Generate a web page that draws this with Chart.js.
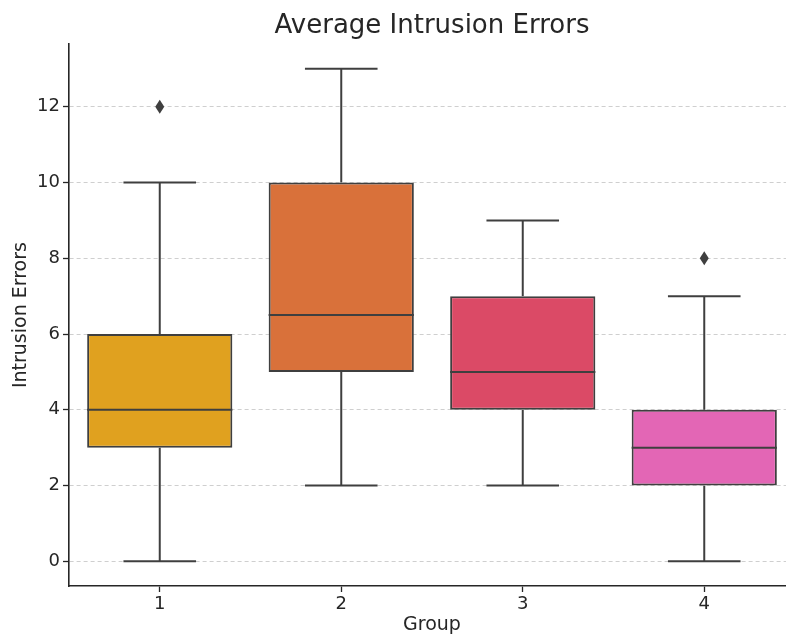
<!DOCTYPE html>
<html>
<head>
<meta charset="utf-8">
<title>Average Intrusion Errors</title>
<script src="https://cdn.jsdelivr.net/npm/chart.js@4.4.0/dist/chart.umd.min.js"></script>
<style>
    html, body { margin: 0; padding: 0; overflow: hidden; background: #ffffff; }
    #caixa { width: 795px; height: 636px; }
</style>
</head>
<body>
<div id="caixa"><canvas id="grafico" width="795" height="636"></canvas></div>
<script>
// Dados do boxplot
const grupos = ['1', '2', '3', '4'];
const quartil1 = [3, 5, 4, 2];
const medianas = [4, 6.5, 5, 3];
const quartil3 = [6, 10, 7, 4];
const bigodeMin = [0, 2, 2, 0];
const bigodeMax = [10, 13, 9, 7];
const outliers = [[12], [], [], [8]];
const marcasY = [0, 2, 4, 6, 8, 10, 12];
const cores = ['#e0a11f', '#d9713a', '#db4a66', '#e366b5'];

const corLinha = '#3f3f3f';
const corTexto = '#262626';
const fonte = "'DejaVu Sans', sans-serif";

// Desenha bigodes, medianas e outliers usando as escalas do Chart.js
const pluginBoxplot = {
    id: 'boxplot',
    afterDatasetsDraw(chart) {
        const ctx = chart.ctx;
        const y = chart.scales.y;
        const meta = chart.getDatasetMeta(0);
        ctx.save();
        ctx.strokeStyle = corLinha;
        ctx.fillStyle = corLinha;
        ctx.lineWidth = 2;
        const linha = (x1, y1, x2, y2) => {
            ctx.beginPath();
            ctx.moveTo(x1, y1);
            ctx.lineTo(x2, y2);
            ctx.stroke();
        };
        grupos.forEach((g, i) => {
            const barra = meta.data[i];
            const cx = barra.x;
            const meia = barra.width / 2;
            // bigodes
            linha(cx, y.getPixelForValue(quartil3[i]), cx, y.getPixelForValue(bigodeMax[i]));
            linha(cx, y.getPixelForValue(quartil1[i]), cx, y.getPixelForValue(bigodeMin[i]));
            // tampas
            linha(cx - meia / 2, y.getPixelForValue(bigodeMax[i]), cx + meia / 2, y.getPixelForValue(bigodeMax[i]));
            linha(cx - meia / 2, y.getPixelForValue(bigodeMin[i]), cx + meia / 2, y.getPixelForValue(bigodeMin[i]));
            // mediana
            linha(cx - meia, y.getPixelForValue(medianas[i]), cx + meia, y.getPixelForValue(medianas[i]));
            // outliers (losango fino)
            outliers[i].forEach(v => {
                const py = y.getPixelForValue(v);
                ctx.beginPath();
                ctx.moveTo(cx, py - 7);
                ctx.lineTo(cx + 4.5, py);
                ctx.lineTo(cx, py + 7);
                ctx.lineTo(cx - 4.5, py);
                ctx.closePath();
                ctx.fill();
            });
        });
        ctx.restore();
    }
};

function inicializarGrafico() {
    const ctx = document.getElementById('grafico').getContext('2d');
    new Chart(ctx, {
        type: 'bar',
        data: {
            labels: grupos,
            datasets: [{
                label: 'Intrusion Errors',
                data: grupos.map((g, i) => [quartil1[i], quartil3[i]]),
                backgroundColor: cores,
                borderColor: corLinha,
                borderWidth: 2,
                borderSkipped: false,
                barPercentage: 0.8,
                categoryPercentage: 1.0
            }]
        },
        options: {
            responsive: false,
            animation: false,
            layout: { padding: 0 },
            plugins: {
                legend: { display: false },
                tooltip: { enabled: false },
                title: {
                    display: true,
                    text: 'Average Intrusion Errors',
                    fullSize: false,
                    color: corTexto,
                    font: { family: fonte, size: 26, weight: 'normal' },
                    padding: { top: 11, bottom: 2 }
                }
            },
            scales: {
                x: {
                    grid: {
                        display: true,
                        offset: false,
                        drawOnChartArea: false,
                        drawTicks: true,
                        tickLength: 6,
                        tickColor: corTexto,
                        tickWidth: 1.3
                    },
                    border: { display: true, color: corTexto, width: 1.6 },
                    ticks: {
                        color: corTexto,
                        font: { family: fonte, size: 18 },
                        padding: 2
                    },
                    title: {
                        display: true,
                        text: 'Group',
                        color: corTexto,
                        font: { family: fonte, size: 19 },
                        padding: { top: 0, bottom: 0 }
                    },
                    afterFit: scale => { scale.height = 50; }
                },
                y: {
                    min: -0.65,
                    max: 13.65,
                    afterBuildTicks: scale => {
                        scale.ticks = marcasY.map(v => ({ value: v }));
                    },
                    grid: {
                        color: '#cfcfcf',
                        lineWidth: 1,
                        drawTicks: true,
                        tickLength: 6,
                        tickColor: corTexto,
                        tickWidth: 1.3,
                        tickBorderDash: []
                    },
                    border: { display: true, color: corTexto, width: 1.6, dash: [4, 3] },
                    ticks: {
                        color: corTexto,
                        font: { family: fonte, size: 18 },
                        padding: 3
                    },
                    title: {
                        display: true,
                        text: 'Intrusion Errors',
                        color: corTexto,
                        font: { family: fonte, size: 19 },
                        padding: { top: 10, bottom: 0 }
                    },
                    afterFit: scale => { scale.width = 69; }
                }
            }
        },
        plugins: [pluginBoxplot]
    });
}

document.addEventListener('DOMContentLoaded', () => {
    inicializarGrafico();
});
</script>
</body>
</html>
